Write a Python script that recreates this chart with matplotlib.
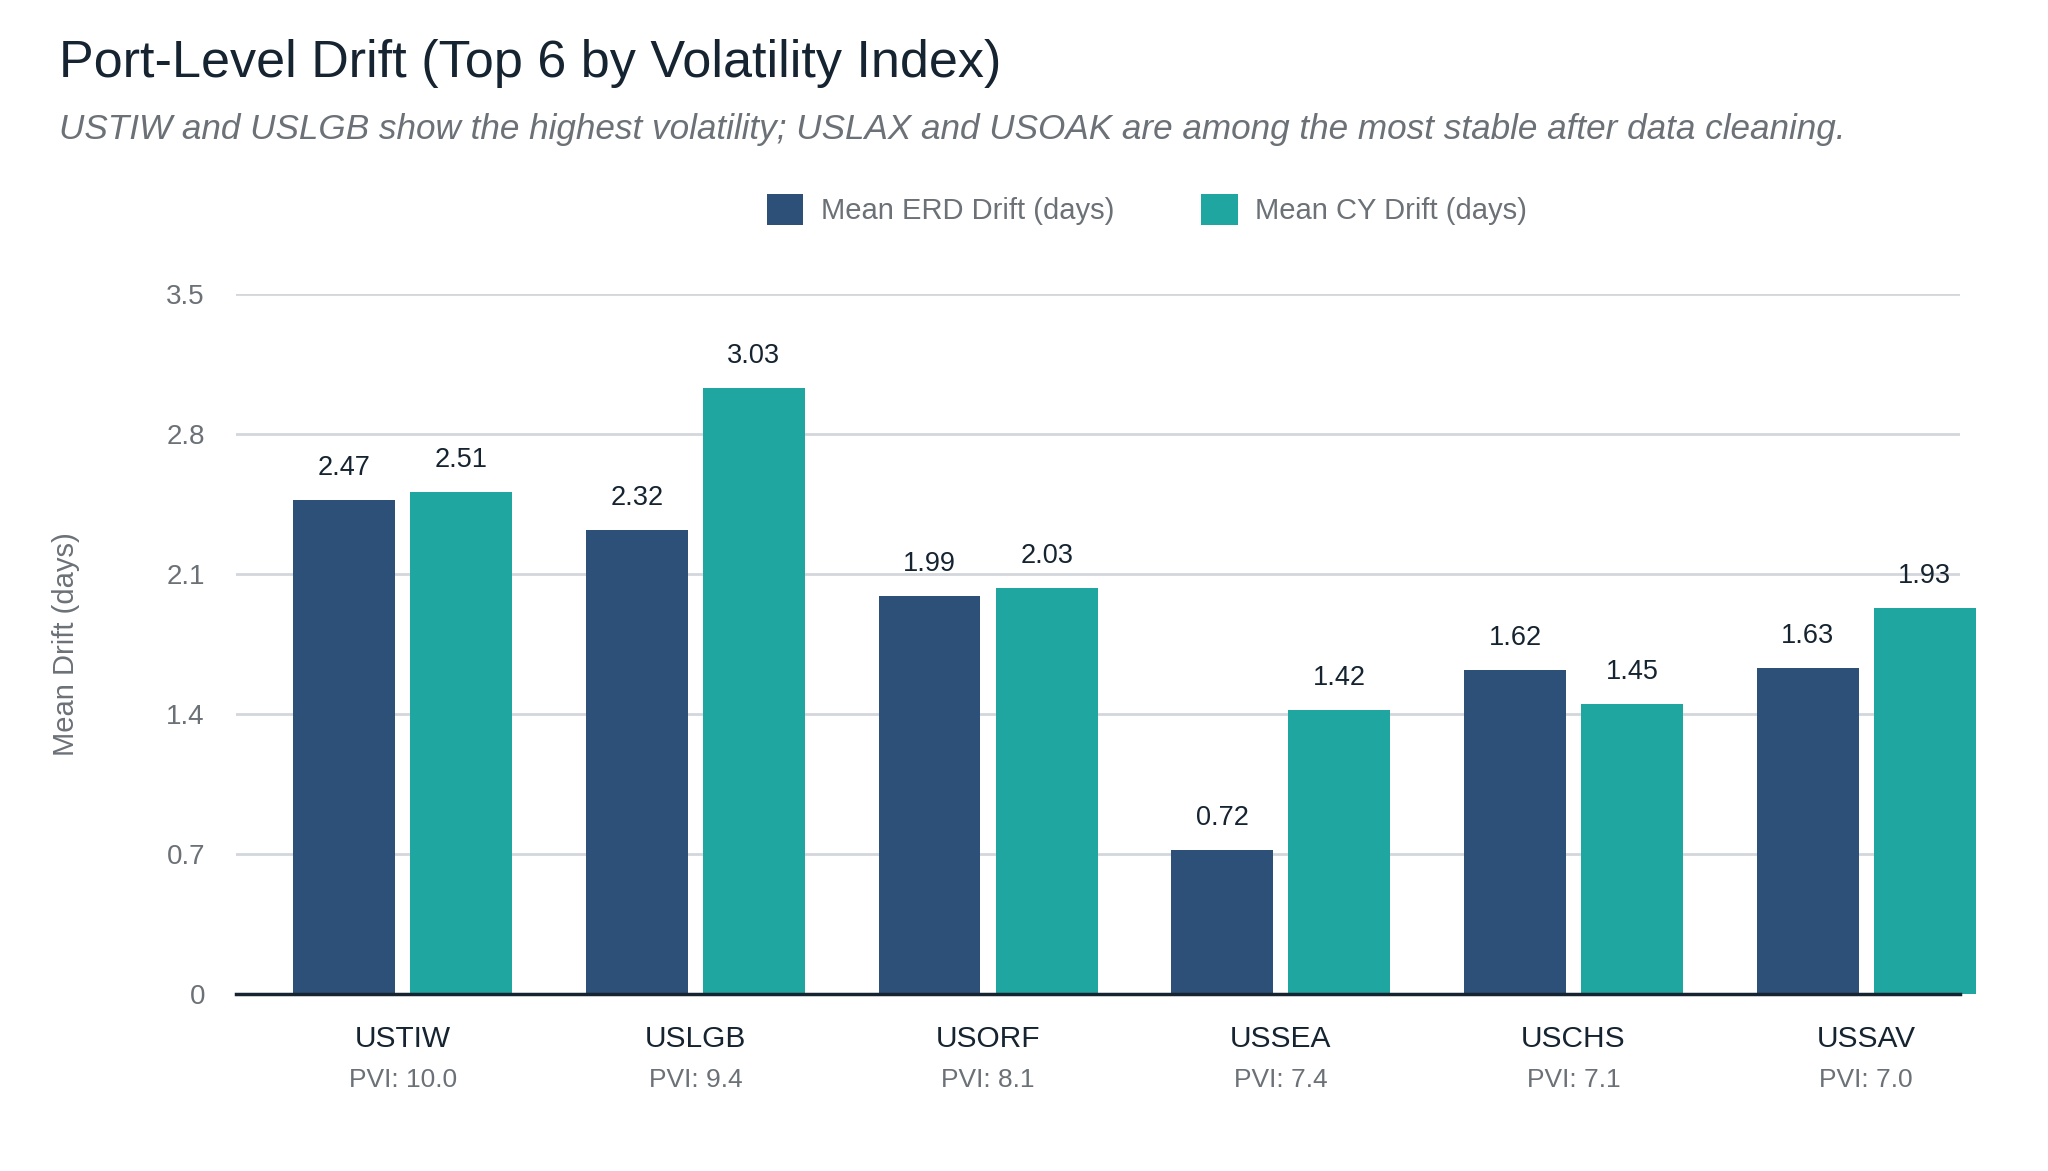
import numpy as np
import matplotlib.pyplot as plt

# data
ports = ['USTIW', 'USLGB', 'USORF', 'USSEA', 'USCHS', 'USSAV']
pvi = [10.0, 9.4, 8.1, 7.4, 7.1, 7.0]
erd_drift = [2.47, 2.32, 1.99, 0.72, 1.62, 1.63]
cy_drift = [2.51, 3.03, 2.03, 1.42, 1.45, 1.93]
y_ticks = [0, 0.7, 1.4, 2.1, 2.8, 3.5]

ERD_COLOR = '#2d5079'
CY_COLOR = '#20a6a1'
DARK = '#152430'
GREY = '#6b7177'

plt.rcParams['font.family'] = ['Liberation Sans', 'DejaVu Sans']

fig = plt.figure(figsize=(20.48, 11.71), dpi=100)
ax = fig.add_axes([0.115, 0.151, 0.842, 0.598])

x = np.arange(len(ports))
w = 0.348
b1 = ax.bar(x - 0.2, erd_drift, w, color=ERD_COLOR, label='Mean ERD Drift (days)', zorder=3, clip_on=False)
b2 = ax.bar(x + 0.2, cy_drift, w, color=CY_COLOR, label='Mean CY Drift (days)', zorder=3, clip_on=False)

for bars, vals in [(b1, erd_drift), (b2, cy_drift)]:
    for r, v in zip(bars, vals):
        ax.annotate(f'{v:.2f}', (r.get_x() + r.get_width() / 2, v), xytext=(0, 14),
                    textcoords='offset points', ha='center', va='bottom',
                    fontsize=19.5, color=DARK)

ax.set_xlim(-0.571, 5.32)
ax.set_ylim(0, 3.5)
ax.set_yticks(y_ticks)
ax.set_yticklabels(['0', '0.7', '1.4', '2.1', '2.8', '3.5'])
ax.tick_params(axis='y', length=0, pad=22, labelsize=20, labelcolor=GREY)
ax.set_xticks(x)
ax.set_xticklabels([''] * len(ports))
ax.tick_params(axis='x', length=0)
ax.yaxis.grid(True, color='#d3d6da', linewidth=2)
ax.set_axisbelow(True)
for s in ['top', 'right', 'left']:
    ax.spines[s].set_visible(False)
ax.spines['bottom'].set_color(DARK)
ax.spines['bottom'].set_linewidth(2.5)
ax.spines['bottom'].set_zorder(4)

for i, (p, v) in enumerate(zip(ports, pvi)):
    ax.text(i, -0.064, p, transform=ax.get_xaxis_transform(), ha='center', va='center',
            fontsize=21.5, color=DARK)
    ax.text(i, -0.123, f'PVI: {v:.1f}', transform=ax.get_xaxis_transform(), ha='center',
            va='center', fontsize=19, color=GREY)

ax.set_ylabel('Mean Drift (days)', fontsize=21, color=GREY, labelpad=62)

fig.text(0.029, 0.946, 'Port-Level Drift (Top 6 by Volatility Index)', fontsize=37.5,
         color=DARK, ha='left', va='center')
fig.text(0.029, 0.889, 'USTIW and USLGB show the highest volatility; USLAX and USOAK are among the most stable after data cleaning.',
         fontsize=25.3, color=GREY, style='italic', ha='left', va='center')

fig.legend(handles=[b1, b2], loc='center', bbox_to_anchor=(0.56, 0.821), ncol=2,
           frameon=False, fontsize=21, labelcolor=GREY, handlelength=1.25, handleheight=1.25,
           columnspacing=3.0, handletextpad=0.6)

fig.savefig('out.png', dpi=100)
